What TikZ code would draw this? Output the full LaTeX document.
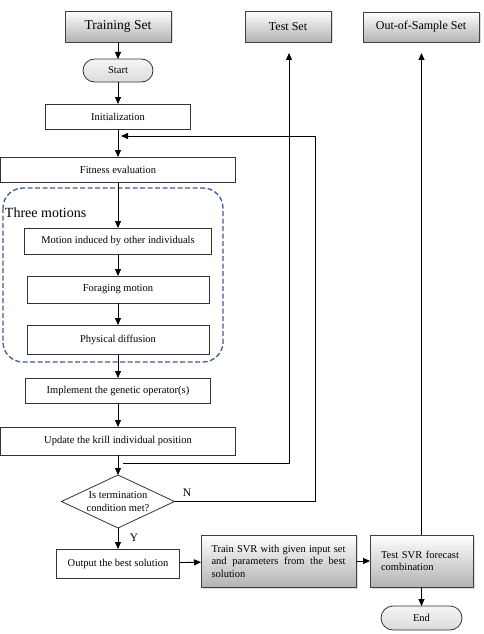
\documentclass[tikz,border=0pt]{standalone}
\usepackage{fontspec}
\setmainfont{Liberation Serif}
\usetikzlibrary{arrows.meta,shapes.geometric,shadows}
\definecolor{dashblue}{HTML}{3F5E8C}
\begin{document}
\begin{tikzpicture}[x=1pt,y=-1pt,
  every node/.style={font=\fontsize{10.5}{12.5}\selectfont, inner sep=0pt, outer sep=0pt},
  box/.style={draw=black!80, line width=0.8pt, fill=white},
  gbox/.style={draw=black!75, line width=0.8pt, top color=white, bottom color=gray!60,
    drop shadow={shadow xshift=1.5pt, shadow yshift=-1.5pt, fill=gray!55}},
  term/.style={draw=black!80, line width=0.8pt, top color=gray!8, bottom color=gray!28},
  arr/.style={-{Triangle[length=7pt,width=6pt]}, line width=0.9pt},
  lbl/.style={font=\fontsize{11.5}{13}\selectfont}
]
\useasboundingbox (0,0) rectangle (483,634);

% top sets
\node[gbox, minimum width=106pt, minimum height=31pt, font=\fontsize{13.5}{15}\selectfont] (train) at (118,26.5) {Training Set};
\node[gbox, minimum width=86pt, minimum height=31pt, font=\fontsize{12}{14}\selectfont] (test) at (288,26.5) {Test Set};
\node[gbox, minimum width=116pt, minimum height=30pt, font=\fontsize{12}{14}\selectfont] (oos) at (421,27) {Out-of-Sample Set};

% main column
\node[term, rounded corners=11.5pt, minimum width=70pt, minimum height=23pt] (start) at (118,70.5) {Start};
\node[box, minimum width=145pt, minimum height=25pt] (init) at (118,116.5) {Initialization};
\node[box, minimum width=235pt, minimum height=25pt] (fit) at (118,169.5) {Fitness evaluation};

\draw[dashblue, line width=1.3pt, dash pattern=on 5pt off 2.5pt, rounded corners=20pt] (3,188) rectangle (223,362);
\node[font=\fontsize{14}{16}\selectfont, anchor=west] (three) at (5,213) {Three motions};

\node[box, minimum width=187pt, minimum height=26pt] (mot) at (118,241) {Motion induced by other individuals};
\node[box, minimum width=182pt, minimum height=27pt] (for) at (118,289.5) {Foraging motion};
\node[box, minimum width=182pt, minimum height=29pt] (phy) at (118,339.5) {Physical diffusion};
\node[box, minimum width=185pt, minimum height=25pt] (imp) at (118,390.5) {Implement the genetic operator(s)};
\node[box, minimum width=235pt, minimum height=28pt] (upd) at (118,441) {Update the krill individual position};
\node[diamond, draw=black!80, line width=0.8pt, fill=white, aspect=2.13, minimum width=113pt, minimum height=53pt, align=center] (dec) at (118,501.5) {Is termination\\condition met?};
\node[box, minimum width=123pt, minimum height=29pt] (out) at (118,563.5) {Output the best solution};

% SVR boxes
\node[gbox, minimum width=155pt, minimum height=52pt, text width=134pt, align=justify] (tsvr) at (278.5,561) {Train SVR with given input set and parameters from the best \mbox{solution}};
\node[gbox, minimum width=103pt, minimum height=52pt, text width=81pt, align=left] (esvr) at (421.5,561) {Test SVR forecast\\combination};
\node[term, rounded corners=12pt, minimum width=81pt, minimum height=24pt] (endn) at (421.5,618) {End};

% labels
\node[lbl] (nlab) at (187,493) {N};
\node[lbl] (ylab) at (134,538) {Y};

% connectors
\draw[arr] (train) -- (start);
\draw[arr] (start) -- (init);
\draw[arr] (init) -- (fit);
\draw[arr] (fit) -- (mot);
\draw[arr] (mot) -- (for);
\draw[arr] (for) -- (phy);
\draw[arr] (phy) -- (imp);
\draw[arr] (imp) -- (upd);
\draw[arr] (upd) -- (dec);
\draw[arr] (dec) -- (out);
\draw[arr] (out) -- (tsvr);
\draw[arr] (tsvr) -- (esvr);
\draw[arr] (esvr) -- (endn);

\coordinate (br) at (123,463);
\coordinate (testin) at (289,53);
\draw[arr] (br) -| (testin);

\coordinate (fbc) at (315,136);
\coordinate (fbin) at (121,136);
\draw[arr] (dec.east) -| (fbc) -- (fbin);

\coordinate (oosin) at (421.5,53);
\draw[arr] (esvr.north) -- (oosin);
\end{tikzpicture}
\end{document}
